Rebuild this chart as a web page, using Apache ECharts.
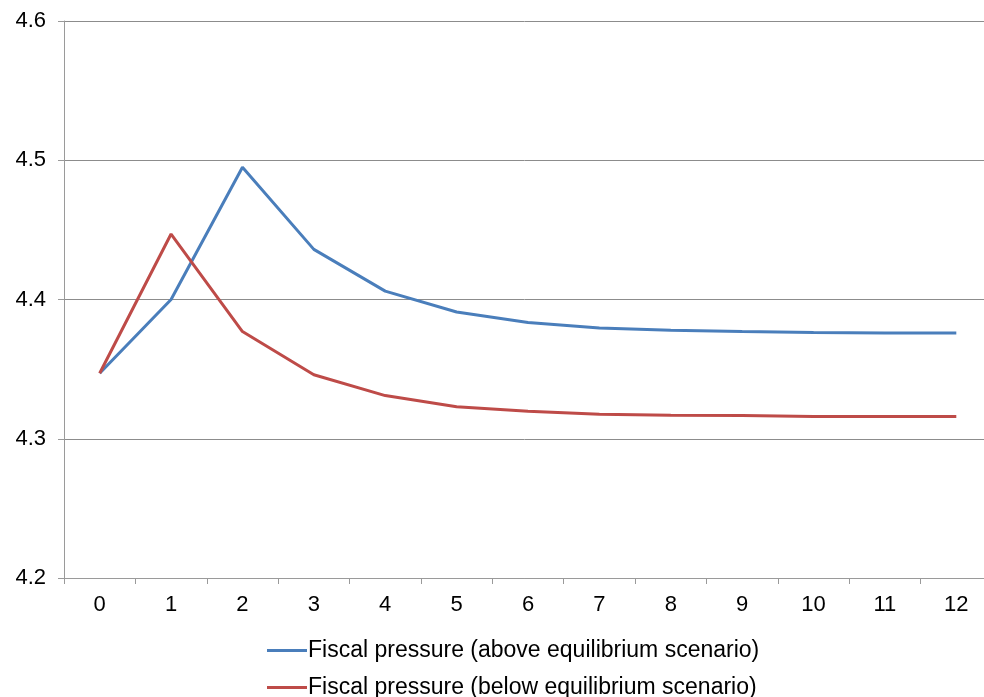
<!DOCTYPE html>
<html>
<head>
<meta charset="utf-8">
<script src="https://cdn.jsdelivr.net/npm/echarts@6/dist/echarts.min.js"></script>
<style>
  html,body{margin:0;padding:0;background:#fff;}
  #chart{width:984px;height:697px;}
</style>
</head>
<body>
<div id="chart"></div>
<script>
  // data
  var periods = ['0','1','2','3','4','5','6','7','8','9','10','11','12'];
  var aboveName = 'Fiscal pressure (above equilibrium scenario)';
  var belowName = 'Fiscal pressure (below equilibrium scenario)';
  var above = [4.347, 4.400, 4.495, 4.436, 4.406, 4.391, 4.3835, 4.3795, 4.378, 4.377, 4.3763, 4.376, 4.376];
  var below = [4.347, 4.447, 4.377, 4.346, 4.331, 4.323, 4.3197, 4.3176, 4.3168, 4.3167, 4.316, 4.316, 4.316];

  var myChart = echarts.init(document.getElementById('chart'));
  var font = 'Liberation Sans, Arial, sans-serif';
  var legendText = {color: '#000', fontSize: 23, fontFamily: font, padding: [0, 0, 0, -4]};
  var option = {
    animation: false,
    grid: {
      left: 64,
      top: 21,
      right: -8,
      height: 557,
      outerBoundsMode: 'none',
      containLabel: false
    },
    legend: [
      {
        left: 262,
        top: 634,
        icon: 'rect',
        itemWidth: 40,
        itemHeight: 3,
        textStyle: legendText,
        data: [aboveName]
      },
      {
        left: 262,
        top: 671,
        icon: 'rect',
        itemWidth: 40,
        itemHeight: 3,
        textStyle: legendText,
        data: [belowName]
      }
    ],
    xAxis: {
      type: 'category',
      data: periods,
      boundaryGap: true,
      axisLine: {lineStyle: {color: '#9a9a9a', width: 1}},
      axisTick: {show: true, length: 6, lineStyle: {color: '#9a9a9a'}},
      axisLabel: {color: '#000', fontSize: 22, fontFamily: font, margin: 16}
    },
    yAxis: {
      type: 'value',
      min: 4.2,
      max: 4.6,
      interval: 0.1,
      axisLine: {show: true, lineStyle: {color: '#9a9a9a', width: 1}},
      axisTick: {show: true, length: 6, lineStyle: {color: '#9a9a9a'}},
      axisLabel: {color: '#000', fontSize: 22, fontFamily: font, margin: 18,
        formatter: function (v) { return v.toFixed(1); }},
      splitLine: {show: true, lineStyle: {color: '#8c8c8c', width: 1}}
    },
    series: [
      {
        name: aboveName,
        type: 'line',
        data: above,
        symbol: 'none',
        lineStyle: {color: '#4a7ebb', width: 3},
        itemStyle: {color: '#4a7ebb'}
      },
      {
        name: belowName,
        type: 'line',
        data: below,
        symbol: 'none',
        lineStyle: {color: '#be4b48', width: 3},
        itemStyle: {color: '#be4b48'}
      }
    ]
  };
  myChart.setOption(option);
</script>
</body>
</html>
